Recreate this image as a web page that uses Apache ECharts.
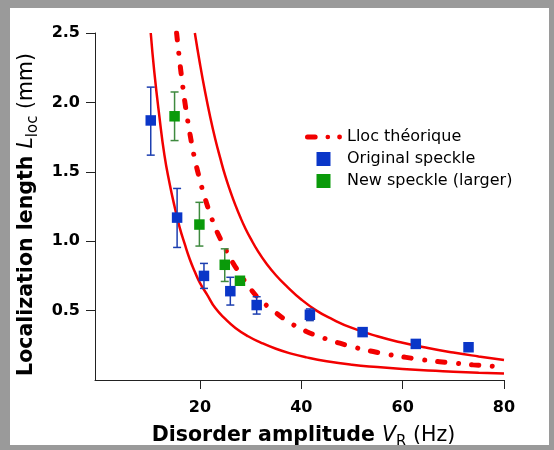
<!DOCTYPE html>
<html>
<head>
<meta charset="utf-8">
<script src="https://cdn.jsdelivr.net/npm/echarts@6/dist/echarts.min.js"></script>
<style>
html,body{margin:0;padding:0;background:#fff;}
#wrap{position:relative;width:554px;height:450px;}
#chart{position:absolute;left:0;top:0;width:554px;height:450px;}
#frame{position:absolute;left:0;top:0;width:554px;height:450px;box-sizing:border-box;
  border-style:solid;border-color:#9a9a9a;border-width:8px 5px 5px 10px;pointer-events:none;}
</style>
</head>
<body>
<div id="wrap"><div id="chart"></div><div id="frame"></div></div>
<script>
// ---- data ----
const xTicks = [20, 40, 60, 80];
const yTicks = [0.5, 1.0, 1.5, 2.0, 2.5];

// Original speckle (blue)
const blueX  = [10.3, 15.5, 20.8, 26.0, 31.2, 41.7, 52.1, 62.6, 73.0];
const blueY  = [1.87, 1.17, 0.75, 0.64, 0.54, 0.47, 0.345, 0.26, 0.236];
const blueLo = [1.62, 0.955, 0.66, 0.54, 0.475, 0.428, null, null, null];
const blueHi = [2.11, 1.38, 0.84, 0.74, 0.60, 0.512, null, null, null];

// New speckle (larger) (green)
const greenX  = [15.0, 19.9, 24.9, 27.9];
const greenY  = [1.90, 1.12, 0.83, 0.715];
const greenLo = [1.725, 0.965, 0.71, null];
const greenHi = [2.075, 1.28, 0.945, null];

// Theoretical curve (dash-dot)
const theoX = [15.4, 16.0, 16.5, 17.0, 17.5, 18.0, 18.5, 19.0, 20.0, 21.0, 22.0, 23.0, 24.0, 25.0, 26.5, 28.0, 30.0, 32.0, 34.8, 37.7, 41.0, 44.6, 47.6, 50.9, 54.2, 57.3, 60.7, 64.0, 67.3, 70.6, 73.9, 77.8];
const theoY = [2.50, 2.30, 2.15, 2.01, 1.89, 1.78, 1.68, 1.59, 1.44, 1.31, 1.20, 1.10, 1.02, 0.945, 0.845, 0.76, 0.655, 0.575, 0.49, 0.415, 0.35, 0.30, 0.265, 0.232, 0.205, 0.183, 0.163, 0.146, 0.132, 0.120, 0.109, 0.099];

// Lower solid bound
const lowX = [10.3, 11.0, 12.0, 13.0, 14.0, 15.0, 16.0, 17.0, 18.0, 19.0, 20.0, 21.5, 23.0, 25.0, 27.0, 29.5, 32.0, 35.0, 38.0, 41.0, 45.0, 50.0, 55.0, 60.0, 65.0, 70.0, 75.0, 80.0];
const lowY = [2.50, 2.22, 1.90, 1.62, 1.42, 1.25, 1.10, 0.98, 0.87, 0.78, 0.70, 0.61, 0.52, 0.44, 0.375, 0.315, 0.27, 0.225, 0.19, 0.163, 0.135, 0.11, 0.093, 0.079, 0.068, 0.060, 0.052, 0.046];

// Upper solid bound
const upX = [19.0, 20.0, 21.0, 22.0, 23.0, 24.0, 25.0, 26.0, 27.0, 28.0, 29.0, 30.0, 31.5, 33.0, 35.0, 37.0, 40.0, 43.0, 46.0, 50.0, 55.0, 60.0, 65.0, 70.0, 75.0, 80.0];
const upY = [2.50, 2.28, 2.08, 1.90, 1.74, 1.60, 1.47, 1.36, 1.26, 1.17, 1.09, 1.02, 0.925, 0.845, 0.755, 0.68, 0.58, 0.50, 0.44, 0.375, 0.315, 0.268, 0.23, 0.198, 0.17, 0.144];

// ---- build ----
const zip = (a, b) => a.map((v, i) => [v, b[i]]);
const errData = (xs, lo, hi) => xs.map((v, i) => [v, lo[i], hi[i]]).filter(d => d[1] !== null);

const FONT = 'DejaVu Sans';
const RED = '#f20000';
const BLUE = '#0a36c8';
const GREEN = '#0a9a0a';
const SQUARE_ICON = 'path://M0,0L1,0L1,1L0,1Z';
const DASHDOT_ICON = 'path://M2.5,4.5L10,4.5A2.5,2.5,0,0,1,10,9.5L2.5,9.5A2.5,2.5,0,0,1,2.5,4.5Z' +
  'M20.2,7A2.3,2.3,0,1,0,24.8,7A2.3,2.3,0,1,0,20.2,7Z' +
  'M31.7,7A2.4,2.4,0,1,0,36.5,7A2.4,2.4,0,1,0,31.7,7Z';

function errRenderer(color) {
  return function (params, api) {
    const x = api.value(0), lo = api.value(1), hi = api.value(2);
    const a = api.coord([x, lo]), b = api.coord([x, hi]);
    const hw = 4;
    const st = { stroke: color, lineWidth: 1.5 };
    return { type: 'group', children: [
      { type: 'line', shape: { x1: a[0], y1: a[1], x2: b[0], y2: b[1] }, style: st },
      { type: 'line', shape: { x1: a[0] - hw, y1: a[1], x2: a[0] + hw, y2: a[1] }, style: st },
      { type: 'line', shape: { x1: b[0] - hw, y1: b[1], x2: b[0] + hw, y2: b[1] }, style: st }
    ]};
  };
}

const nameRich = {
  b: { fontFamily: FONT, fontWeight: 'bold', fontSize: 20.5, lineHeight: 25, color: '#000' },
  i: { fontFamily: FONT, fontStyle: 'italic', fontSize: 20.5, lineHeight: 25, color: '#000' },
  s: { fontFamily: FONT, fontSize: 15, lineHeight: 15, padding: [14, 0, 0, 0], color: '#000' },
  n: { fontFamily: FONT, fontSize: 20.5, lineHeight: 25, color: '#000' }
};

const chart = echarts.init(document.getElementById('chart'), null, { renderer: 'canvas' });
chart.setOption({
  animation: false,
  backgroundColor: '#fff',
  grid: { left: 95, right: 50, top: 33, bottom: 70, outerBoundsMode: 'none' },
  legend: {
    orient: 'vertical', left: 300, top: 124,
    itemWidth: 37, itemHeight: 14, itemGap: 6,
    textStyle: { fontFamily: FONT, fontSize: 16, color: '#000' },
    data: [
      { name: 'Lloc théorique', icon: DASHDOT_ICON, itemStyle: { color: RED } },
      { name: 'Original speckle', icon: SQUARE_ICON },
      { name: 'New speckle (larger)', icon: SQUARE_ICON }
    ]
  },
  xAxis: {
    type: 'value', min: -0.7, max: 80,
    name: '{b|Disorder amplitude }{i|V}{s|R}{n| (Hz)}',
    nameLocation: 'middle', nameGap: 32,
    nameTextStyle: { rich: nameRich, padding: [0, 0, 0, 8] },
    axisLine: { onZero: false, lineStyle: { color: '#222', width: 1 } },
    axisTick: { show: true, inside: false, length: 9, lineStyle: { color: '#222' }, customValues: xTicks },
    axisLabel: { customValues: xTicks, margin: 20, fontFamily: FONT, fontWeight: 'bold', fontSize: 16, color: '#000',
      formatter: v => String(v) },
    splitLine: { show: false }
  },
  yAxis: {
    type: 'value', min: 0, max: 2.5,
    name: '{b|Localization length }{i|L}{s|loc}{n| (mm)}',
    nameLocation: 'middle', nameGap: 51, nameRotate: 90,
    nameTextStyle: { rich: nameRich, padding: [0, 16, 0, 0] },
    axisLine: { show: true, onZero: false, lineStyle: { color: '#222', width: 1 } },
    axisTick: { show: true, inside: false, length: 9, lineStyle: { color: '#222' }, customValues: yTicks },
    axisLabel: { customValues: yTicks, margin: 15, fontFamily: FONT, fontWeight: 'bold', fontSize: 16, color: '#000',
      formatter: v => v.toFixed(1) },
    splitLine: { show: false }
  },
  series: [
    { name: 'lower', type: 'line', data: zip(lowX, lowY), symbol: 'none', smooth: 0.5, z: 1,
      lineStyle: { color: RED, width: 2.5 }, clip: true, silent: true },
    { name: 'upper', type: 'line', data: zip(upX, upY), symbol: 'none', smooth: 0.5, z: 1,
      lineStyle: { color: RED, width: 2.5 }, clip: true, silent: true },
    { name: 'Lloc théorique', type: 'line', data: zip(theoX, theoY), symbol: 'none', smooth: 0.5, z: 2,
      itemStyle: { color: RED },
      lineStyle: { color: RED, width: 5, type: [7, 13.5, 0.01, 13.5], cap: 'round' }, clip: true },
    { name: 'blueErr', type: 'custom', renderItem: errRenderer('#1d3fb0'), data: errData(blueX, blueLo, blueHi),
      encode: { x: 0, y: [1, 2] }, z: 3, silent: true },
    { name: 'greenErr', type: 'custom', renderItem: errRenderer('#3f8a3f'), data: errData(greenX, greenLo, greenHi),
      encode: { x: 0, y: [1, 2] }, z: 3, silent: true },
    { name: 'Original speckle', type: 'scatter', data: zip(blueX, blueY), symbol: 'rect', symbolSize: 10.5, z: 4,
      itemStyle: { color: BLUE, opacity: 1 } },
    { name: 'New speckle (larger)', type: 'scatter', data: zip(greenX, greenY), symbol: 'rect', symbolSize: 10.5, z: 4,
      itemStyle: { color: GREEN, opacity: 1 } }
  ]
});
</script>
</body>
</html>
